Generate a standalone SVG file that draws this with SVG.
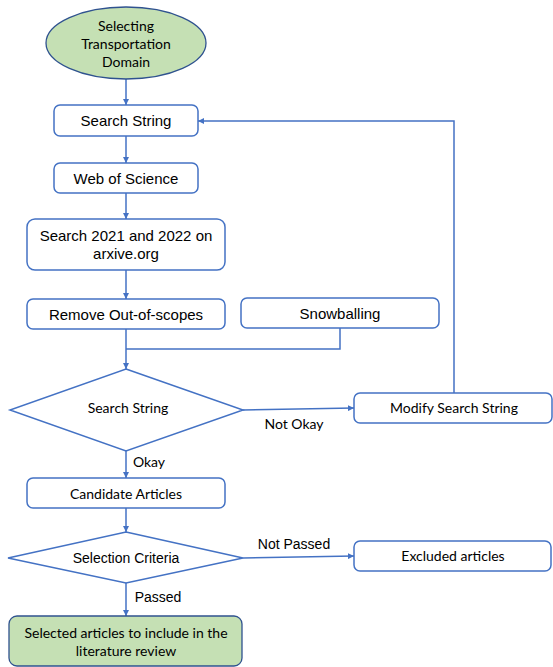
<svg xmlns="http://www.w3.org/2000/svg" width="553" height="667" viewBox="0 0 553 667">
<style>
.box{fill:#ffffff;stroke:#4472C4;stroke-width:1.5}
.green{fill:#C5E0B4;stroke:#2F528F;stroke-width:1.3}
.ln{fill:none;stroke:#4472C4;stroke-width:1.5}
.a{font-family:"Liberation Sans",Arial,sans-serif;fill:#000;text-anchor:middle}
.c{font-family:Lato,"Noto Sans",sans-serif;fill:#000;text-anchor:middle;font-size:14px}
</style>
<defs>
<marker id="arr" viewBox="0 0 10 10" refX="10" refY="5" markerWidth="6" markerHeight="6" orient="auto" markerUnits="userSpaceOnUse">
<path d="M0,0 L10,5 L0,10 z" fill="#4472C4"/>
</marker>
</defs>
<rect width="553" height="667" fill="#ffffff"/>
<g id="connectors">
<path class="ln" d="M126,79 V105" stroke="#8FAADC" marker-end="url(#arr)"/>
<path class="ln" d="M126,136 V163" marker-end="url(#arr)"/>
<path class="ln" d="M126,193 V219" marker-end="url(#arr)"/>
<path class="ln" d="M126,270 V299" marker-end="url(#arr)"/>
<path class="ln" d="M126,329 V369" marker-end="url(#arr)"/>
<path class="ln" d="M340,328 V349 H126"/>
<path class="ln" d="M243,410 L354,408" marker-end="url(#arr)"/>
<path class="ln" d="M454,393 V121 H198" marker-end="url(#arr)"/>
<path class="ln" d="M126,451 V478" marker-end="url(#arr)"/>
<path class="ln" d="M126,508 V532" marker-end="url(#arr)"/>
<path class="ln" d="M243,558 L354,556" marker-end="url(#arr)"/>
<path class="ln" d="M126,583 V616" marker-end="url(#arr)"/>
</g>
<g id="start">
<ellipse class="green" cx="126" cy="43" rx="80" ry="36"/>
<text class="c" x="126" y="31">Selecting</text>
<text class="c" x="126" y="49">Transportation</text>
<text class="c" x="126" y="67">Domain</text>
</g>
<g id="search-string">
<rect class="box" x="54" y="105" width="144" height="31" rx="6"/>
<text class="a" font-size="15" x="126" y="126">Search String</text>
</g>
<g id="web-of-science">
<rect class="box" x="54" y="163" width="144" height="30" rx="6"/>
<text class="a" font-size="15" x="126" y="183.5">Web of Science</text>
</g>
<g id="search-arxiv">
<rect class="box" x="27" y="219" width="198" height="51" rx="8"/>
<text class="a" font-size="15" x="126" y="241">Search 2021 and 2022 on</text>
<text class="a" font-size="15" x="126" y="259">arxive.org</text>
</g>
<g id="remove">
<rect class="box" x="27" y="299" width="198" height="30" rx="6"/>
<text class="a" font-size="15" x="126" y="320">Remove Out-of-scopes</text>
</g>
<g id="snowballing">
<rect class="box" x="241" y="298" width="198" height="30" rx="6"/>
<text class="a" font-size="15" x="340" y="318.5">Snowballing</text>
</g>
<g id="decision-search">
<polygon class="box" points="126,369 243,410 126,451 10,410"/>
<text class="c" x="128" y="413">Search String</text>
</g>
<g id="modify">
<rect class="box" x="354" y="393" width="198" height="30" rx="6"/>
<text class="c" x="454" y="413">Modify Search String</text>
</g>
<text class="c" x="294" y="429">Not Okay</text>
<text class="c" x="149" y="467">Okay</text>
<g id="candidate">
<rect class="box" x="27" y="478" width="198" height="30" rx="6"/>
<text class="c" x="126" y="499">Candidate Articles</text>
</g>
<g id="decision-selection">
<polygon class="box" points="126,532 243,558 126,583 8,558"/>
<text class="a" font-size="14" x="126" y="563">Selection Criteria</text>
</g>
<text class="a" font-size="14" x="294" y="549">Not Passed</text>
<text class="a" font-size="14" x="158" y="602">Passed</text>
<g id="excluded">
<rect class="box" x="354" y="541" width="197" height="30" rx="6"/>
<text class="c" x="453" y="561">Excluded articles</text>
</g>
<g id="selected">
<rect class="green" x="9" y="616" width="233" height="50" rx="8"/>
<text class="c" x="126" y="638">Selected articles to include in the</text>
<text class="c" x="126" y="656">literature review</text>
</g>
</svg>
